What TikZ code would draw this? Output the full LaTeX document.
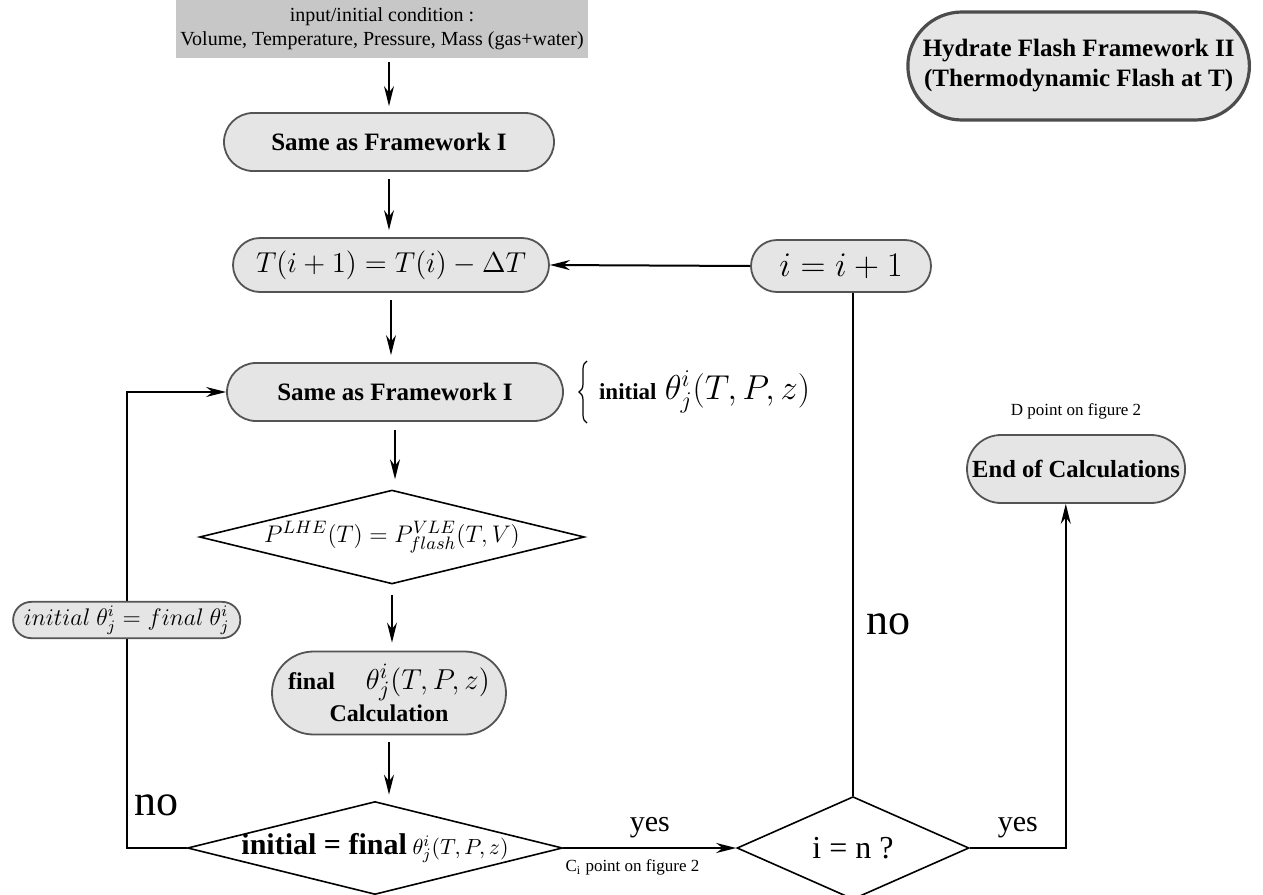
\documentclass[tikz,border=0pt]{standalone}
\usepackage[no-math]{fontspec}
\setmainfont{Liberation Serif}
\usetikzlibrary{shapes.misc}
\usetikzlibrary{shapes.geometric}
\usetikzlibrary{arrows.meta}
\usetikzlibrary{decorations.pathreplacing}

\tikzset{
  pill/.style={rounded rectangle, draw=black!67, fill=black!10, line width=0.9pt, inner sep=2pt},
  decision/.style={diamond, draw, fill=white, line width=0.8pt, inner sep=0pt},
  flow/.style={line width=1pt, -{Stealth[length=10pt,width=5pt]}},
  link/.style={line width=1pt},
  boldtext/.style={font=\bfseries\fontsize{12.5}{15}\selectfont},
}

\begin{document}
\begin{tikzpicture}[x=0.5pt, y=-0.5pt]
  \useasboundingbox (0,0) rectangle (1263,894);

  \node[fill=black!22, minimum width=206pt, minimum height=29pt, inner sep=1pt, align=center, font=\fontsize{10}{12}\selectfont] (input) at (382,29) {input/initial condition :\\Volume, Temperature, Pressure, Mass (gas+water)};
  \node[pill, boldtext, minimum width=169pt, minimum height=29pt] (sameA) at (389,142) {Same as Framework I};
  \node[pill, minimum width=162pt, minimum height=27pt, font=\fontsize{15.2}{18}\selectfont] (tstep) at (391,265) {$T(i+1) = T(i) - \Delta T$};
  \node[pill, minimum width=94pt, minimum height=26pt, font=\fontsize{17}{20}\selectfont] (incr) at (841,266) {$i = i + 1$};
  \node[pill, boldtext, minimum width=172pt, minimum height=29pt] (sameB) at (395,392) {Same as Framework I};
  \draw[line width=0.6pt, decorate, decoration={brace, amplitude=4pt}] (587,423) -- (587,361);
  \node[anchor=west, font=\fontsize{16.5}{19}\selectfont] (initlabel) at (592,392) {{\bfseries\fontsize{11.5}{14}\selectfont initial}~$\theta^i_j(T,P,z)$};
  \node[decision, minimum width=191.5pt, minimum height=43.5pt, aspect=4.1, font=\fontsize{13}{16}\selectfont] (pcheck) at (392,537) {$P^{LHE}(T) = P^{VLE}_{flash}(T,V)$};
  \node[pill, minimum width=121pt, minimum height=41.5pt, align=center, font=\fontsize{15.5}{16}\selectfont] (final) at (389,693) {{\bfseries\fontsize{12}{14}\selectfont final}\quad$\theta^i_j(T,P,z)$\\{\bfseries\fontsize{12}{14}\selectfont Calculation}};
  \node[decision, minimum width=187.5pt, minimum height=46.5pt,
    label={[font=\fontsize{11.3}{14}\selectfont]center:{\bfseries\fontsize{15}{18}\selectfont initial = final} $\theta^i_j(T,P,z)$}] (converge) at (375,848) {};
  \node[decision, minimum width=116pt, minimum height=45pt, font=\fontsize{16}{19}\selectfont] (last) at (853,848) {i = n ?};
  \node[pill, font=\bfseries\fontsize{12.3}{15}\selectfont, inner xsep=2pt, minimum height=34pt, anchor=east] (finish) at (1186,469) {End of Calculations};
  \node[above=4pt, font=\fontsize{8.5}{10}\selectfont] (dpoint) at (finish.north) {D point on figure 2};
  \node[pill, font=\bfseries\fontsize{12.5}{15}\selectfont, draw=black!70, line width=1.6pt, inner xsep=4pt, minimum height=54pt, align=center, anchor=east] (title) at (1251,66) {Hydrate Flash Framework II\\(Thermodynamic Flash at T)};

  % main column
  \draw[flow, shorten <=2pt, shorten >=3pt] (sameA.north |- input.south) -- (sameA.north);
  \draw[flow, shorten <=3.5pt, shorten >=3.5pt] (sameA.south) -- (sameA.south |- tstep.north);
  \draw[flow, shorten <=3.5pt, shorten >=3.5pt] (tstep.south) -- (tstep.south |- sameB.north);
  \draw[flow, shorten <=4pt, shorten >=5pt] (sameB.south) -- (sameB.south |- pcheck.north);
  \draw[flow, shorten <=5pt, shorten >=4pt] (pcheck.south) -- (pcheck.south |- final.north);
  \draw[flow, shorten <=3.5pt, shorten >=3pt] (final.south) -- (final.south |- converge.north);

  % temperature loop
  \draw[flow] (incr.west) -- (tstep.east);
  \draw[link] (last.north) -- node[pos=0.34, right=3pt, font=\fontsize{22}{26}\selectfont] {no} (last.north |- incr.south);

  % exits
  \draw[flow] (converge.east) -- node[above=1pt, font=\fontsize{15}{18}\selectfont] {yes}
    node[pos=0.4, below=2pt, font=\fontsize{8.5}{10}\selectfont] {C\textsubscript{i} point on figure 2} (last.west);
  \draw[flow] (last.east) -- node[above=1pt, font=\fontsize{15}{18}\selectfont] {yes} ++(96,0) coordinate (rise) -- (rise |- finish.south);

  % theta update loop
  \draw[flow] (converge.west) -- node[above=12pt, font=\fontsize{22}{26}\selectfont] {no} ++(-60,0) coordinate (back)
    -- node[pill, font=\fontsize{12}{14}\selectfont] (update) {$initial\ \theta^i_j = final\ \theta^i_j$} (back |- sameB.west) -- (sameB.west);
\end{tikzpicture}
\end{document}
